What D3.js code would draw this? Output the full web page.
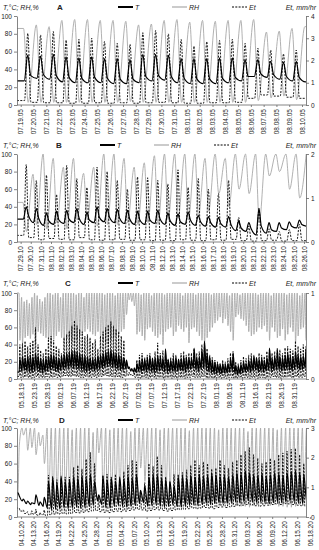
<!DOCTYPE html>
<html>
<head>
<meta charset="utf-8">
<script src="https://cdnjs.cloudflare.com/ajax/libs/d3/7.8.5/d3.min.js"></script>
<style>
body { margin: 0; background: #fff; }
svg { display: block; font-family: "Liberation Sans", Arial, sans-serif; }
</style>
</head>
<body>
<div id="chart"></div>
<script>
// ---- panel A : 07.19.05 - 08.10.05 (one value per day)
const aStart = '2005-07-19'
const aTdawn  = [27, 30, 29, 26, 25, 25, 25, 24, 24, 25, 27, 28, 25, 24, 24, 24, 25, 27, 32, 31, 29, 27, 26]
const aTnoon  = [56, 55, 57, 54, 53, 54, 52, 52, 51, 57, 57, 56, 52, 52, 52, 53, 53, 51, 51, 49, 48, 49]
const aTdusk  = [33, 34, 33, 31, 30, 31, 30, 29, 29, 32, 33, 32, 30, 29, 29, 30, 31, 32, 35, 34, 32, 31]
const aRHdawn = [86, 90, 88, 95, 96, 96, 95, 95, 94, 90, 91, 95, 96, 93, 95, 94, 95, 95, 96, 82, 83, 86, 88]
const aRHnoon = [3, 3, 3, 3, 3, 3, 3, 3, 4, 3, 3, 3, 3, 3, 3, 3, 3, 3, 5, 8, 10, 6]
const aETnight = [0.2, 0.12, 0.1, 0.1, 0.08, 0.08, 0.1, 0.08, 0.1, 0.08, 0.1, 0.12, 0.1, 0.08, 0.08, 0.1, 0.1, 0.12, 0.3, 0.45, 0.4, 0.35, 0.3]
const aETnoon  = [3.22, 3.15, 3.3, 2.92, 2.95, 3.0, 2.85, 2.77, 2.73, 3.25, 3.35, 3.2, 2.95, 2.65, 2.85, 2.9, 2.95, 2.77, 2.55, 2.47, 2.3, 2.47]

// ---- panel B : 07.29.10 - 08.26.10
const bStart = '2010-07-29'
const bTdawn  = [26, 22, 19, 20, 21, 22, 20, 22, 23, 22, 21, 20, 20, 21, 20, 19, 20, 19, 18, 17, 17, 13, 12, 8, 10, 12, 14, 16, 18]
const bTnoon  = [40, 38, 33, 35, 36, 38, 34, 40, 38, 37, 36, 35, 35, 36, 33, 32, 34, 30, 29, 28, 29, 24, 22, 38, 22, 22, 23, 25]
const bTdusk  = [30, 27, 24, 25, 26, 27, 25, 28, 28, 27, 26, 25, 25, 26, 24, 23, 25, 23, 22, 21, 20, 16, 15, 18, 14, 16, 18, 20]
const bRHdawn = [45, 77, 100, 95, 85, 95, 78, 85, 100, 100, 95, 85, 90, 98, 100, 100, 100, 100, 95, 100, 95, 100, 100, 100, 100, 100, 100, 100, 100]
const bRHnoon = [12, 20, 15, 22, 15, 25, 25, 18, 20, 20, 22, 20, 22, 20, 25, 28, 25, 30, 35, 55, 40, 60, 55, 22, 75, 80, 60, 50]
const bETnight = [0.15, 0.1, 0.05, 0.08, 0.06, 0.05, 0.1, 0.05, 0.04, 0.05, 0.06, 0.04, 0.05, 0.03, 0.04, 0.03, 0.05, 0.04, 0.03, 0.05, 0.04, 0.06, 0.03, 0.02, 0.03, 0.04, 0.02, 0.03, 0.03]
const bETnoon  = [1.76, 1.4, 1.52, 1.08, 1.74, 1.44, 1.24, 1.7, 1.6, 1.4, 1.2, 1.48, 1.46, 1.4, 1.32, 1.64, 1.24, 1.44, 1.2, 1.1, 1.4, 0.56, 0.36, 0.76, 0.3, 0.24, 0.28, 0.4]

// ---- panel C : 05.17.19 - 09.04.19
const cStart = '2019-05-17'
const cTdawn = [8, 9, 10, 9, 8, 7, 9, 10, 8, 7, 8, 9, 10, 11, 9, 8, 10, 11, 12, 12,
  13, 12, 12, 11, 10, 9, 8, 9, 10, 9, 10, 11, 12, 13, 14, 14, 13, 12, 11, 10,
  10, 12, 12, 9, 8, 8, 9, 8, 9, 8, 9, 8, 7, 8, 9, 10, 8, 7, 8, 9,
  8, 9, 10, 9, 8, 10, 11, 12, 10, 9, 11, 12, 10, 8, 7, 6, 6, 7, 6, 7,
  7, 8, 9, 6, 5, 6, 7, 8, 9, 8, 9, 10, 8, 9, 8, 9, 10, 9, 10, 11,
  10, 9, 10, 11, 10, 9, 11, 12, 10, 11, 12]
const cTnoon = [24, 26, 25, 27, 28, 26, 30, 27, 24, 23, 25, 27, 29, 28, 26, 24, 27, 29, 30, 31,
  33, 34, 32, 30, 28, 27, 26, 25, 24, 25, 27, 28, 30, 32, 33, 34, 32, 30, 29, 27,
  25, 22, 14, 12, 13, 18, 22, 24, 23, 25, 26, 24, 25, 27, 26, 24, 35, 23, 22, 24,
  25, 23, 24, 26, 25, 25, 24, 36, 25, 26, 34, 44, 30, 26, 22, 20, 18, 17, 18, 17,
  18, 24, 30, 16, 15, 17, 20, 18, 22, 24, 26, 25, 23, 24, 22, 25, 36, 24, 26, 34,
  26, 25, 28, 30, 27, 26, 32, 28, 26, 27, 35]
const cRHdawn = [100, 95, 90, 92, 88, 95, 100, 97, 93, 90, 95, 100, 100, 98, 100, 100, 95, 100, 100, 100,
  100, 100, 98, 100, 100, 95, 100, 100, 100, 100, 100, 100, 100, 98, 100, 100, 100, 97, 100, 100,
  100, 100, 100, 100, 100, 100, 100, 98, 100, 100, 100, 97, 100, 100, 100, 100, 98, 100, 100, 100,
  100, 100, 100, 97, 100, 100, 100, 100, 98, 100, 100, 100, 100, 100, 98, 100, 100, 100, 100, 100,
  100, 97, 100, 100, 100, 98, 100, 100, 100, 100, 100, 100, 98, 100, 100, 100, 100, 97, 100, 100,
  100, 100, 100, 98, 100, 100, 100, 100, 97, 100, 100]
const cRHnoon = [45, 42, 48, 50, 47, 52, 40, 55, 53, 50, 48, 45, 40, 46, 50, 55, 48, 45, 47, 42,
  44, 40, 45, 50, 52, 55, 58, 55, 52, 50, 55, 48, 45, 42, 40, 45, 47, 50, 52, 55,
  58, 75, 92, 90, 85, 52, 55, 50, 45, 58, 60, 55, 50, 48, 52, 40, 55, 58, 60, 50,
  55, 62, 58, 55, 60, 42, 58, 60, 55, 50, 45, 40, 48, 55, 60, 65, 68, 72, 65, 70,
  62, 55, 45, 72, 75, 70, 68, 62, 55, 50, 52, 55, 60, 58, 62, 55, 45, 60, 55, 48,
  50, 58, 45, 52, 60, 55, 42, 50, 58, 60, 45]
const cETnight = [0.03, 0.02, 0.02, 0.03, 0.02, 0.01, 0.02, 0.03, 0.02, 0.02, 0.02, 0.03, 0.02, 0.02, 0.03, 0.02, 0.02, 0.03, 0.04, 0.03,
  0.03, 0.04, 0.03, 0.03, 0.02, 0.02, 0.03, 0.02, 0.02, 0.03, 0.02, 0.03, 0.03, 0.04, 0.04, 0.03, 0.03, 0.02, 0.03, 0.02,
  0.02, 0.03, 0.04, 0.05, 0.04, 0.02, 0.02, 0.01, 0.02, 0.02, 0.01, 0.02, 0.02, 0.01, 0.02, 0.02, 0.01, 0.02, 0.02, 0.01,
  0.02, 0.01, 0.02, 0.02, 0.01, 0.02, 0.02, 0.03, 0.02, 0.02, 0.02, 0.03, 0.02, 0.01, 0.02, 0.01, 0.01, 0.02, 0.01, 0.02,
  0.01, 0.02, 0.02, 0.01, 0.01, 0.02, 0.01, 0.02, 0.02, 0.01, 0.02, 0.02, 0.01, 0.02, 0.02, 0.01, 0.02, 0.02, 0.03, 0.02,
  0.02, 0.01, 0.02, 0.02, 0.03, 0.02, 0.02, 0.03, 0.02, 0.02, 0.03]
const cETnoon = [0.4, 0.42, 0.44, 0.38, 0.42, 0.45, 0.6, 0.4, 0.33, 0.3, 0.35, 0.48, 0.5, 0.45, 0.38, 0.35, 0.3, 0.48, 0.52, 0.56,
  0.62, 0.68, 0.62, 0.58, 0.55, 0.5, 0.52, 0.48, 0.42, 0.46, 0.35, 0.5, 0.55, 0.6, 0.63, 0.67, 0.62, 0.58, 0.55, 0.5,
  0.45, 0.2, 0.08, 0.06, 0.1, 0.22, 0.28, 0.3, 0.25, 0.28, 0.3, 0.25, 0.32, 0.42, 0.3, 0.33, 0.28, 0.22, 0.25, 0.3,
  0.28, 0.22, 0.3, 0.32, 0.28, 0.3, 0.3, 0.35, 0.3, 0.32, 0.4, 0.43, 0.35, 0.28, 0.25, 0.22, 0.2, 0.18, 0.22, 0.2,
  0.24, 0.3, 0.32, 0.2, 0.18, 0.22, 0.26, 0.24, 0.28, 0.3, 0.28, 0.25, 0.3, 0.28, 0.26, 0.32, 0.35, 0.3, 0.32, 0.36,
  0.34, 0.3, 0.36, 0.38, 0.35, 0.33, 0.44, 0.38, 0.35, 0.4, 0.38]

// ---- panel D : 04.09.20 - 06.17.20
const dStart = '2020-04-09'
const dTdawn = [27, 18, 15, 14, 15, 13, 12, 10, 8, 9, 9, 10, 9, 10, 11, 10, 11, 12, 13, 18,
  14, 11, 10, 12, 13, 12, 11, 12, 13, 15, 16, 12, 13, 14, 12, 11, 12, 14, 12, 11,
  12, 13, 14, 13, 14, 15, 14, 15, 16, 15, 15, 16, 17, 16, 17, 18, 17, 16, 17, 16,
  15, 16, 17, 16, 17, 18, 17, 16, 15, 16]
const dTnoon = [24, 20, 18, 16, 25, 17, 22, 40, 44, 38, 46, 40, 42, 45, 44, 46, 44, 48, 40, 25,
  46, 42, 44, 40, 45, 43, 46, 44, 48, 30, 35, 45, 48, 47, 44, 42, 40, 35, 45, 46,
  44, 47, 45, 48, 46, 47, 49, 48, 46, 47, 45, 48, 50, 49, 52, 50, 48, 47, 49, 46,
  48, 50, 49, 47, 50, 51, 52, 50, 48, 45]
const dRHdawn = [25, 100, 100, 100, 100, 95, 92, 100, 100, 100, 100, 100, 100, 98, 100, 100, 100, 100, 95, 100,
  100, 100, 98, 100, 100, 100, 100, 96, 100, 100, 100, 100, 100, 100, 98, 100, 100, 100, 100, 100,
  100, 97, 100, 100, 100, 100, 100, 100, 98, 100, 100, 100, 100, 100, 100, 96, 100, 100, 100, 100,
  100, 100, 98, 100, 100, 100, 100, 100, 100, 100]
const dRHnoon = [80, 92, 75, 78, 70, 80, 60, 18, 15, 20, 18, 15, 17, 14, 16, 15, 13, 12, 25, 72,
  18, 20, 17, 22, 25, 18, 16, 14, 15, 55, 40, 16, 18, 14, 17, 22, 28, 20, 18, 17,
  16, 15, 14, 16, 15, 14, 16, 17, 14, 15, 16, 14, 13, 12, 12, 11, 13, 14, 16, 15,
  13, 14, 12, 12, 11, 11, 12, 14, 16, 18]
const dETnight = [0.3, 0.2, 0.12, 0.08, 0.1, 0.06, 0.08, 0.05, 0.08, 0.1, 0.1, 0.12, 0.1, 0.12, 0.15, 0.14, 0.16, 0.18, 0.2, 0.22,
  0.18, 0.16, 0.15, 0.18, 0.2, 0.18, 0.2, 0.22, 0.24, 0.26, 0.24, 0.2, 0.22, 0.25, 0.24, 0.22, 0.2, 0.22, 0.24, 0.25,
  0.26, 0.28, 0.3, 0.28, 0.3, 0.32, 0.3, 0.28, 0.32, 0.34, 0.32, 0.34, 0.36, 0.38, 0.4, 0.42, 0.4, 0.38, 0.36, 0.38,
  0.4, 0.42, 0.44, 0.42, 0.45, 0.44, 0.42, 0.4, 0.38, 0.36]
const dETnoon = [0.3, 0.24, 0.18, 0.21, 0.27, 0.15, 0.24, 1.41, 1.38, 1.26, 1.29, 1.35, 1.35, 1.68, 1.74, 1.62, 1.95, 2.19, 1.8, 0.69,
  1.41, 1.44, 1.35, 1.44, 1.17, 1.53, 1.74, 1.92, 1.86, 0.9, 1.17, 1.8, 1.71, 2.04, 1.74, 1.35, 1.17, 1.44, 1.44, 1.5,
  1.59, 1.74, 1.92, 1.74, 1.86, 1.8, 1.62, 1.65, 1.92, 1.74, 1.65, 1.86, 1.92, 2.1, 2.22, 2.34, 2.1, 1.98, 1.8, 1.86,
  1.98, 1.92, 2.1, 2.16, 2.22, 2.28, 2.31, 2.1, 1.8, 1.56]

const leftTicks = [0, 20, 40, 60, 80, 100]
const seriesNames = ['T', 'RH', 'Et']

const DAY = 864e5
const utc = s => new Date(s + 'T00:00:00Z')
const addDays = (d, n) => new Date(+d + n * DAY)

const panels = [
  { letter: 'A', start: aStart, Td: aTdawn, Tn: aTnoon, Te: aTdusk, Rd: aRHdawn, Rn: aRHnoon, En: aETnight, Ee: aETnoon,
    from: -7 / 24, to: 22 + 7.5 / 24, firstTick: '2005-07-19', tickStep: 1, tickCount: 23, etMax: 4,
    top: 16, bottom: 105, head: 7, letterX: 57, leg: [118, 172, 232] },
  { letter: 'B', start: bStart, Td: bTdawn, Tn: bTnoon, Te: bTdusk, Rd: bRHdawn, Rn: bRHnoon, En: bETnight, Ee: bETnoon,
    from: -0.36, to: 28.2, firstTick: '2010-07-29', tickStep: 1, tickCount: 29, etMax: 2,
    top: 154, bottom: 242, head: 145, letterX: 56, leg: [100, 154, 214] },
  { letter: 'C', start: cStart, Td: cTdawn, Tn: cTnoon, Te: [], Rd: cRHdawn, Rn: cRHnoon, En: cETnight, Ee: cETnoon,
    from: -0.55, to: 110.6, firstTick: '2019-05-18', tickStep: 5, tickCount: 22, etMax: 1,
    top: 293, bottom: 379, head: 283, letterX: 65, leg: [118, 172, 232] },
  { letter: 'D', start: dStart, Td: dTdawn, Tn: dTnoon, Te: [], Rd: dRHdawn, Rn: dRHnoon, En: dETnight, Ee: dETnoon,
    from: 0.03, to: 69.08, firstTick: '2020-04-10', tickStep: 3, tickCount: 24, etMax: 3,
    top: 428, bottom: 517, head: 420, letterX: 59, leg: [118, 172, 232] }
]

const W = 319, H = 550, X0 = 17, X1 = 306

const svg = d3.select('#chart').append('svg')
  .attr('width', W).attr('height', H)

// place each day's value at a fixed hour of that day
function place(start, arr, offsets) {
  const s = utc(start)
  const out = []
  arr.forEach((v, j) => offsets.forEach(o => out.push([+s + (j + o) * DAY, v])))
  return out
}

panels.forEach((p, pi) => {

  const s = utc(p.start)
  const x = d3.scaleUtc().domain([addDays(s, p.from), addDays(s, p.to)]).range([X0, X1])
  const y = d3.scaleLinear().domain([0, 100]).range([p.bottom, p.top])
  const yR = d3.scaleLinear().domain([0, p.etMax]).range([p.bottom, p.top])

  const g = svg.append('g')

  g.append('clipPath').attr('id', 'clip' + pi)
    .append('rect').attr('x', X0).attr('y', p.top - 2).attr('width', X1 - X0).attr('height', p.bottom - p.top + 3)

  const pad = pts => {
    pts.sort((a, b) => a[0] - b[0])
    const [d0, d1] = x.domain()
    if (pts[0][0] > +d0) pts.unshift([+d0, pts[0][1]])
    if (pts[pts.length - 1][0] < +d1) pts.push([+d1, pts[pts.length - 1][1]])
    return pts
  }

  const T = pad(place(p.start, p.Td, [0.27]).concat(place(p.start, p.Tn, [0.55]), place(p.start, p.Te, [0.78])))
  const RH = pad(place(p.start, p.Rd, [0.22]).concat(place(p.start, p.Rn, [0.58])))
  const ET = pad(place(p.start, p.En, [-0.2, 0.3]).concat(place(p.start, p.Ee, [0.55])))

  const lineL = d3.line().x(d => x(d[0])).y(d => y(d[1])).curve(d3.curveMonotoneX)
  const lineR = d3.line().x(d => x(d[0])).y(d => yR(d[1])).curve(d3.curveMonotoneX)

  const plot = g.append('g').attr('clip-path', 'url(#clip' + pi + ')')

  plot.append('path').attr('d', lineL(RH))
    .attr('fill', 'none').attr('stroke', '#a8a8a8').attr('stroke-width', 0.9)

  plot.append('path').attr('d', lineL(T))
    .attr('fill', 'none').attr('stroke', '#000').attr('stroke-width', 1.2)

  plot.append('path').attr('d', lineR(ET))
    .attr('fill', 'none').attr('stroke', '#000').attr('stroke-width', 0.9)
    .attr('stroke-dasharray', '2,1.3')

  // axes
  const styleAxis = sel => {
    sel.select('.domain').attr('stroke', '#666').attr('stroke-width', 0.8)
    sel.selectAll('.tick line').attr('stroke', '#666').attr('stroke-width', 0.8)
    sel.selectAll('text').attr('fill', '#222').style('font-size', '6.5px').style('font-family', '"Liberation Sans", Arial, sans-serif')
  }

  g.append('g').attr('transform', `translate(${X0},0)`)
    .call(d3.axisLeft(y).tickValues(leftTicks).tickSize(3).tickSizeOuter(0).tickPadding(2))
    .call(styleAxis)

  g.append('g').attr('transform', `translate(${X1},0)`)
    .call(d3.axisRight(yR).tickValues(d3.range(0, p.etMax + 1)).tickFormat(d3.format('d')).tickSize(3).tickSizeOuter(0).tickPadding(2))
    .call(styleAxis)

  const ticks = d3.range(p.tickCount).map(k => addDays(utc(p.firstTick), k * p.tickStep))

  const xa = g.append('g').attr('transform', `translate(0,${p.bottom})`)
    .call(d3.axisBottom(x).tickValues(ticks).tickFormat(d3.utcFormat('%m.%d.%y')).tickSize(2).tickSizeOuter(0))
    .call(styleAxis)

  xa.select('.domain').attr('d', `M${X0},0H${X1}`)
  xa.selectAll('.tick text')
    .attr('transform', 'rotate(-90)')
    .attr('text-anchor', 'end')
    .attr('x', -4).attr('y', 0).attr('dy', '0.34em')

  // header
  const hy = p.head + 2.5
  g.append('text').attr('x', 3).attr('y', hy)
    .style('font-size', '7px').style('font-style', 'italic').attr('fill', '#222')
    .text('T,°C; RH,%')

  g.append('text').attr('x', p.letterX).attr('y', hy + 0.5)
    .style('font-size', '8px').style('font-weight', 'bold').attr('fill', '#222')
    .text(p.letter)

  g.append('text').attr('x', 316).attr('y', hy).attr('text-anchor', 'end')
    .style('font-size', '7px').style('font-style', 'italic').attr('fill', '#222')
    .text('Et, mm/hr')

  const legStyle = [
    { stroke: '#000', w: 2, dash: null },
    { stroke: '#a8a8a8', w: 1.2, dash: null },
    { stroke: '#000', w: 1, dash: '2,1.3' }
  ]
  seriesNames.forEach((nm, k) => {
    const lx = p.leg[k]
    g.append('line').attr('x1', lx).attr('x2', lx + 15).attr('y1', p.head).attr('y2', p.head)
      .attr('stroke', legStyle[k].stroke).attr('stroke-width', legStyle[k].w)
      .attr('stroke-dasharray', legStyle[k].dash)
    g.append('text').attr('x', lx + 17).attr('y', hy)
      .style('font-size', '7px').style('font-style', 'italic').attr('fill', '#222')
      .text(nm)
  })
})
</script>
</body>
</html>
